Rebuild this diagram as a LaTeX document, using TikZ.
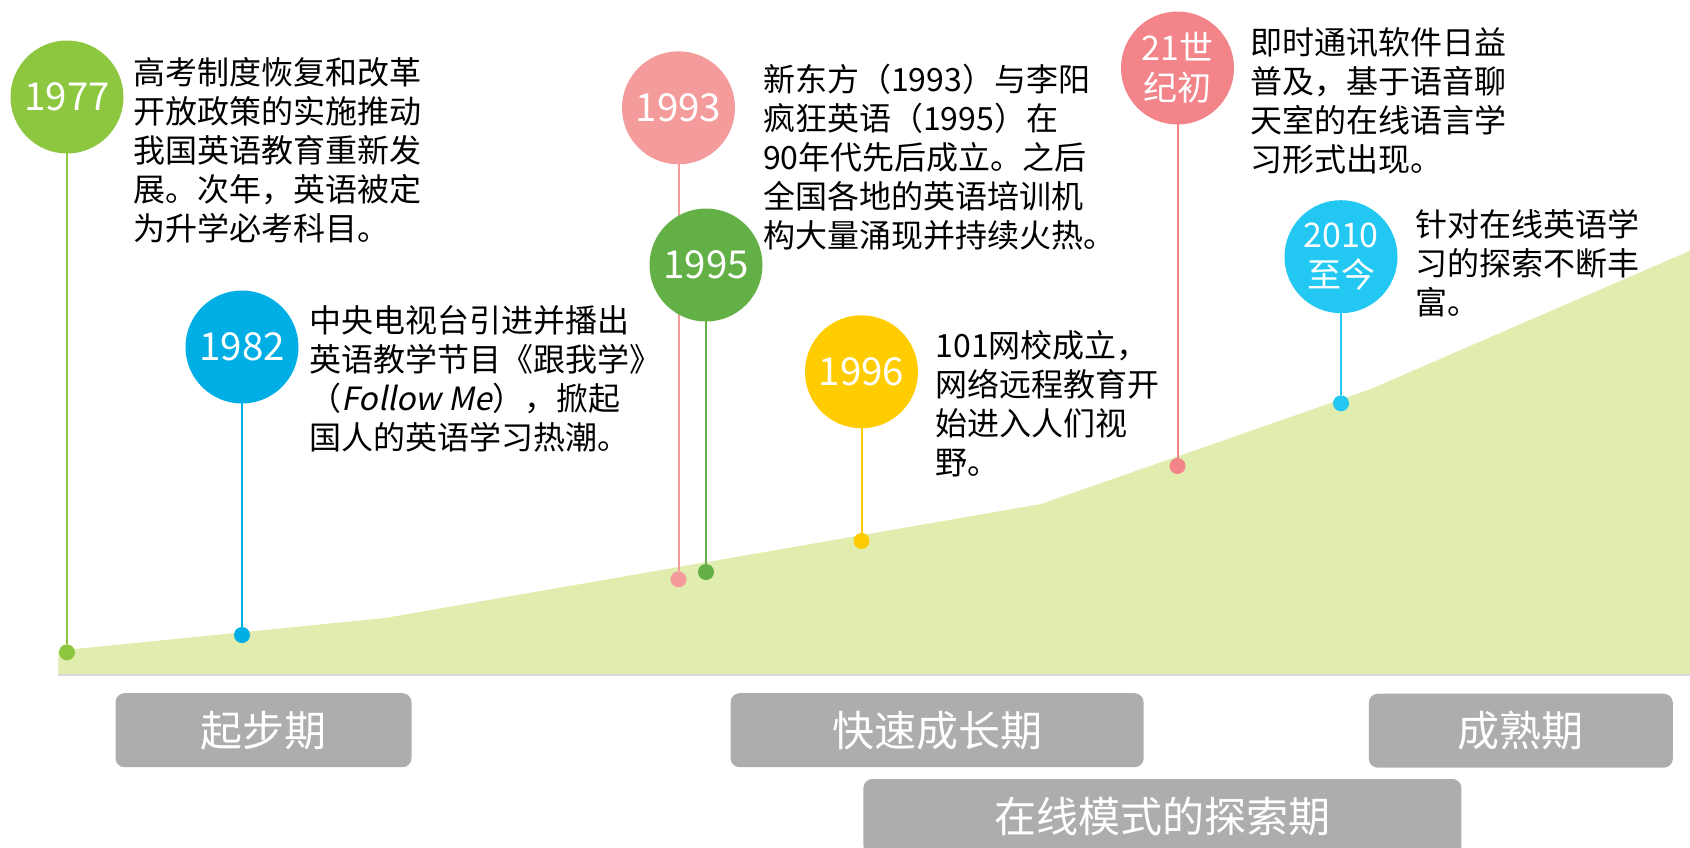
\documentclass[tikz,border=0pt]{standalone}
\usepackage{fontspec}
\setmainfont{Noto Sans CJK SC}[AutoFakeSlant=0.2]

\definecolor{c1977}{HTML}{8DC63F}
\definecolor{c1982}{HTML}{00AEE6}
\definecolor{c1993}{HTML}{F49B9C}
\definecolor{c1995}{HTML}{63B046}
\definecolor{c1996}{HTML}{FFCC00}
\definecolor{c21c}{HTML}{F2848A}
\definecolor{c2010}{HTML}{22C8F2}
\definecolor{areagreen}{HTML}{E1ECAF}
\definecolor{linegray}{HTML}{D9D9D9}
\definecolor{boxgray}{HTML}{ADADAD}

\begin{document}
\begin{tikzpicture}[x=1pt,y=-1pt,
    event/.style={circle,fill=#1,text=white,minimum size=113pt,inner sep=0pt,align=center},
    enddot/.style={circle,fill=#1,minimum size=16pt,inner sep=0pt},
    stemline/.style={#1,line width=2pt},
    notetext/.style={anchor=north west,inner sep=0pt,align=left,font=\fontsize{32}{39}\selectfont},
    period/.style={rectangle,rounded corners=9pt,fill=boxgray,text=white,inner sep=0pt,
        minimum height=74pt,font=\fontsize{42}{42}\selectfont}]
    \useasboundingbox (0,0) rectangle (1690,847);
    \clip (0,0) rectangle (1690,847);

    % growth area
    \fill[areagreen] (58.3,675) -- (58.3,650.7) -- (385,618) -- (1041,504)
        -- (1370,389.3) -- (1690,250.7) -- (1690,675) -- cycle;
    \draw[linegray, line width=2pt] (58.3,675) -- (1690,675);

    % stems and end dots
    \foreach \n/\x/\y/\dy in {1977/67/97/652.3, 1982/242/347/635, 1993/678.5/107.8/579.3,
            1995/706/265/572, 1996/861.5/371.8/541, 21c/1177.5/68/466, 2010/1341/256.7/403.3}{
        \coordinate (o\n) at (\x,\y);
        \node[enddot=c\n] (d\n) at (\x,\dy) {};
        \draw[stemline=c\n] (o\n) -- (d\n);
    }

    % year circles
    \foreach \n/\fs/\lab in {1977/38.5/1977, 1982/38.5/1982, 1993/38.5/1993, 1995/38.5/1995,
            1996/38.5/1996, 21c/34/{21世\\纪初}, 2010/34/{2010\\至今}}{
        \node[event=c\n, font=\fontsize{\fs}{40}\selectfont] (c\n) at (o\n) {\lab};
    }

    % descriptions
    \node[notetext] (t1977) at (133.6,57) {高考制度恢复和改革\\开放政策的实施推动\\我国英语教育重新发\\展。次年，英语被定\\为升学必考科目。};
    \node[notetext] (t1982) at (309.3,305) {中央电视台引进并播出\\英语教学节目《跟我学》\\（\textit{Follow Me}），掀起\\国人的英语学习热潮。};
    \node[notetext] (t1993) at (763,64) {新东方（1993）与李阳\\疯狂英语（1995）在\\90年代先后成立。之后\\全国各地的英语培训机\\构大量涌现并持续火热。};
    \node[notetext] (t1996) at (935.5,330) {101网校成立，\\网络远程教育开\\始进入人们视\\野。};
    \node[notetext] (t21c) at (1250,27) {即时通讯软件日益\\普及，基于语音聊\\天室的在线语言学\\习形式出现。};
    \node[notetext] (t2010) at (1415,209) {针对在线英语学\\习的探索不断丰\\富。};

    % periods
    \node[period, minimum width=296pt] (p1) at (263.5,730.2) {起步期};
    \node[period, minimum width=413pt] (p2) at (937.1,730.2) {快速成长期};
    \node[period, minimum width=304pt] (p3) at (1520.8,730.7) {成熟期};
    \node[period, minimum width=598pt, minimum height=76pt] (p4) at (1162.4,817) {在线模式的探索期};
\end{tikzpicture}
\end{document}
